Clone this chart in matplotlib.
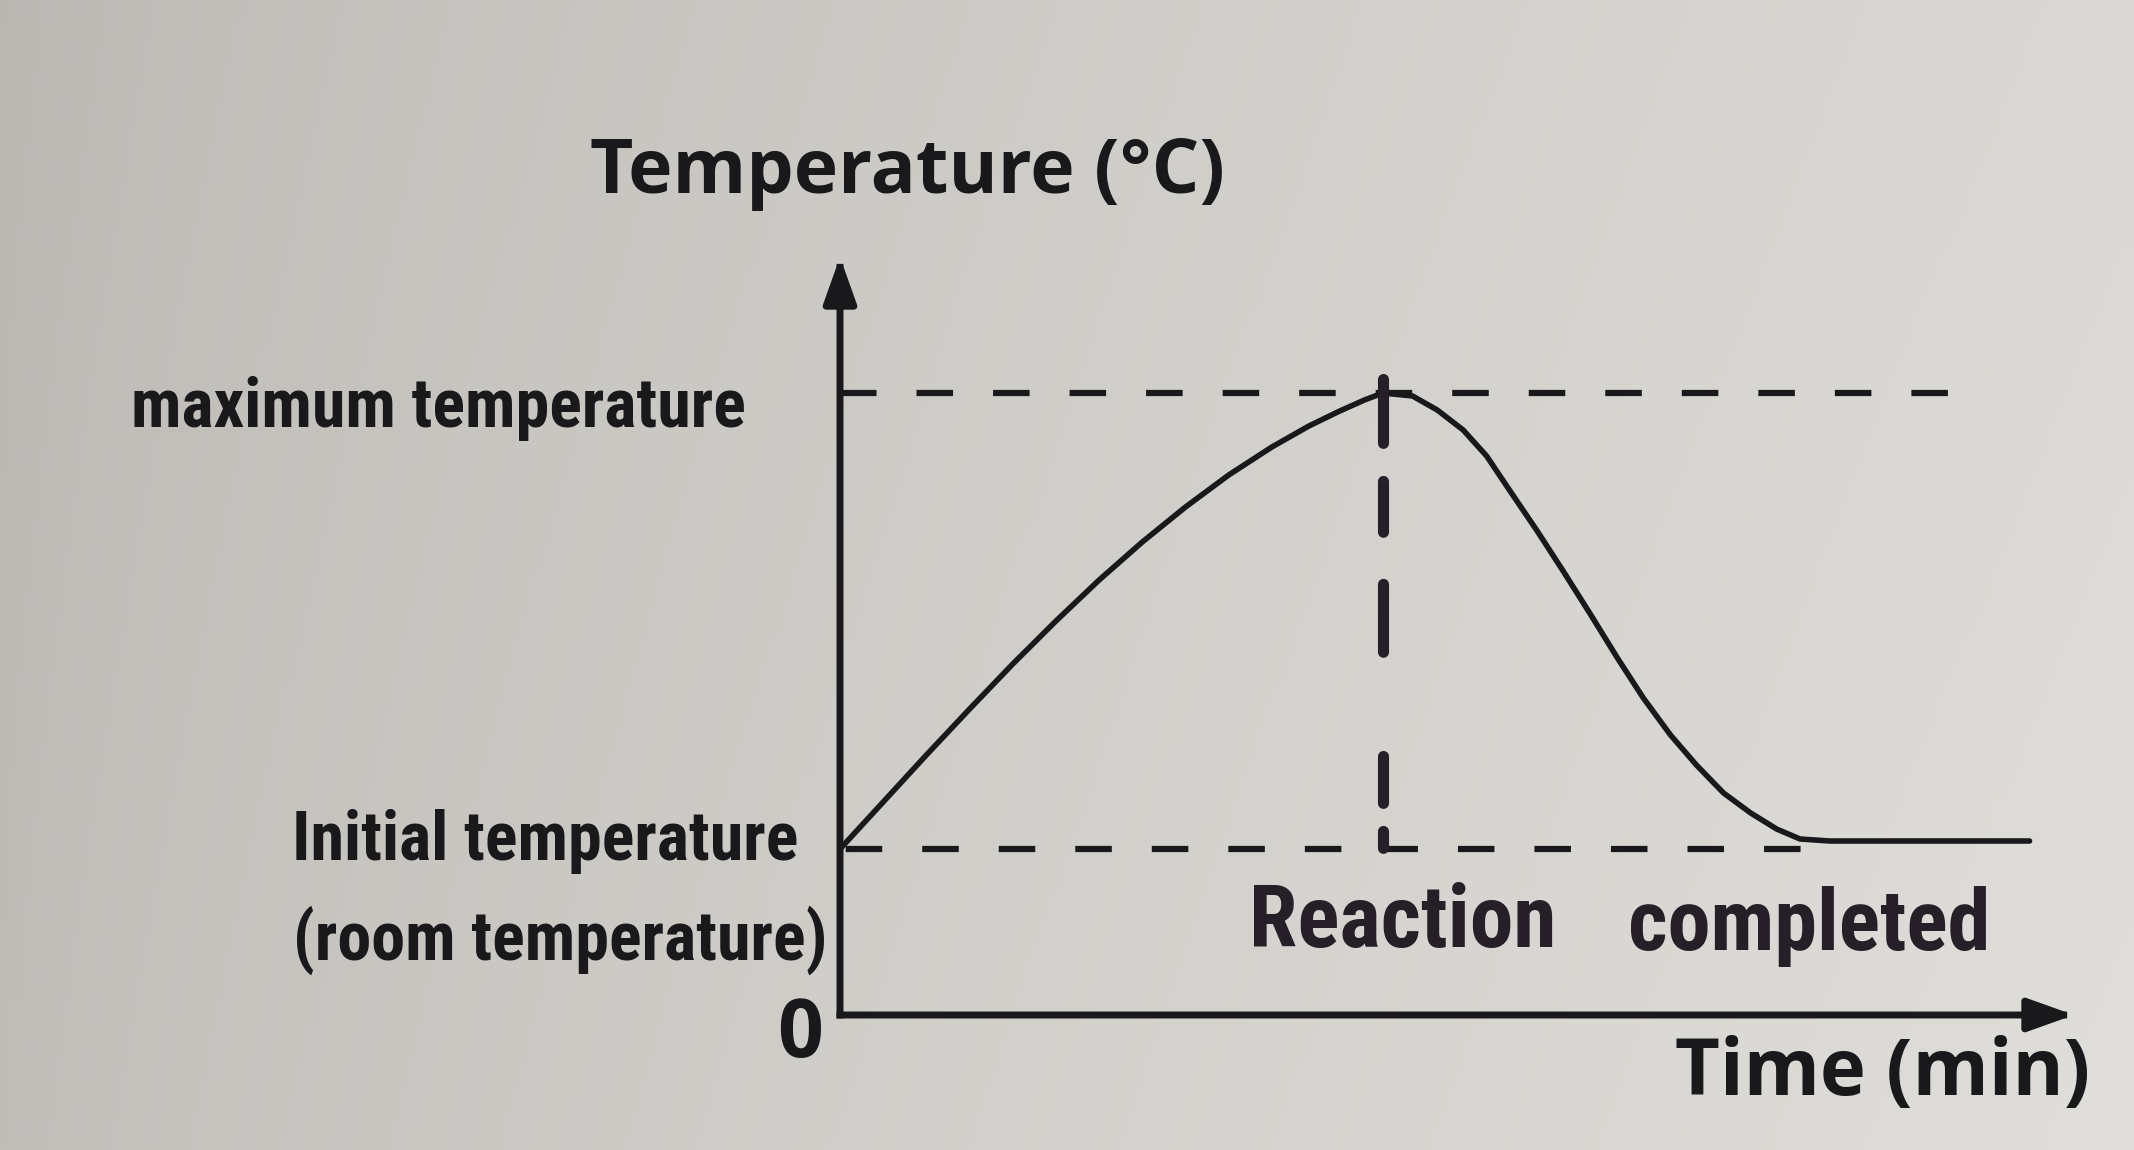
import numpy as np
import matplotlib.pyplot as plt
from matplotlib import font_manager

plt.rcParams['lines.scale_dashes'] = False

# Curve (time and temperature have no numbers on the chart,
# so they are in arbitrary units: 100 = end of the time axis)
time = [0, 3.5, 7, 10.5, 14, 17.5, 21, 24.5, 28, 31.5, 35, 38, 40.5, 42.5, 44.0,
        46.4, 48.4, 50.5, 52.4, 54.3, 56.5, 58.6, 60.8, 63.0, 65.1, 67.3, 69.4,
        71.6, 73.8, 75.9, 77.8, 80.2, 96.4]
temperature = [16.6, 21.3, 26.0, 30.6, 35.1, 39.4, 43.5, 47.3, 50.8, 54.0, 56.8, 58.9, 60.4, 61.5, 62.2,
               61.9, 60.5, 58.5, 55.9, 52.4, 48.4, 44.4, 40.1, 35.7, 31.7, 28.0, 25.0,
               22.2, 20.2, 18.6, 17.6, 17.4, 17.4]

title = 'Temperature (°C)'
x_label = 'Time (min)'
max_label = 'maximum temperature'
initial_label = ['Initial temperature', '(room temperature)']
zero_label = '0'
note = ['Reaction', 'completed']

# extents of the guide lines (same units as above)
max_line_end = 90.5
initial_line_end = 78.0
pen_line_over = 1.4

black = '#19181a'
ink = '#261f27'

available = {f.name for f in font_manager.fontManager.ttflist}
narrow = next((f for f in ['Liberation Sans Narrow', 'Roboto Condensed', 'Open Sans Condensed',
                           'Noto Sans'] if f in available), 'DejaVu Sans')
wide = 'Open Sans' if 'Open Sans' in available else 'DejaVu Sans'

W, H = 2134, 1150
fig = plt.figure(figsize=(W / 100, H / 100), dpi=100)


def fx(px):
    return px / W


def fy(py):
    return 1 - py / H


# paper background (photo is darker on the left)
bg = fig.add_axes([0, 0, 1, 1])
bg.axis('off')
gx = np.linspace(0, 1, 256)[None, :, None]
gy = np.linspace(0, 1, 128)[:, None, None]
left = np.array([192, 189, 185]) / 255
right = np.array([224, 222, 218]) / 255
img = left + (right - left) * gx ** 0.7 - 0.02 * (1 - gy)
bg.imshow(np.clip(img, 0, 1), aspect='auto', extent=[0, 1, 0, 1])

ox, oy = 840, 1015
ax = fig.add_axes([fx(ox), fy(oy), (2074 - ox) / W, (oy - 257) / H])
ax.set_xlim(0, 100)
ax.set_ylim(0, 75.8)
ax.axis('off')

t0 = temperature[0]
t_max = max(temperature)
t_peak = time[temperature.index(t_max)]

# dashed guides
ax.plot([0, max_line_end], [t_max, t_max], color=black, lw=4.5,
        linestyle=(0, (26.3, 28.8)), dash_capstyle='butt', zorder=2)
ax.plot([0, initial_line_end], [t0, t0], color=black, lw=4.5,
        linestyle=(51, (26.3, 28.8)), dash_capstyle='butt', zorder=2)

# the curve
ax.plot(time, temperature, color=black, lw=4, solid_joinstyle='round',
        solid_capstyle='round', zorder=3)

# hand drawn line at the peak
ax.plot([t_peak, t_peak], [t_max + pen_line_over, t0], color=ink, lw=8,
        linestyle=(0, (46.0, 27.4, 36.6, 37.5, 48.9, 75.0, 33.8, 20.2, 12.2, 100)),
        dash_capstyle='round', zorder=4)

# axes with arrow heads
arrow_kw = dict(arrowstyle='-|>,head_length=2.8,head_width=1.0', mutation_scale=10,
                lw=5, color=black, shrinkA=0, shrinkB=0, capstyle='projecting')
ax.annotate('', xy=(1, 0), xytext=(0, 0), xycoords='axes fraction', arrowprops=arrow_kw)
ax.annotate('', xy=(0, 1), xytext=(0, 0), xycoords='axes fraction', arrowprops=arrow_kw)

# printed text
fig.text(fx(907), fy(193), title, ha='center', va='baseline', fontsize=54,
         family=wide, weight='bold', color=black)
fig.text(fx(746), fy(427), max_label, ha='right', va='baseline', fontsize=49,
         family=narrow, weight='bold', color=black)
fig.text(fx(292), fy(860), initial_label[0], ha='left', va='baseline', fontsize=49,
         family=narrow, weight='bold', color=black)
fig.text(fx(293), fy(960), initial_label[1], ha='left', va='baseline', fontsize=49,
         family=narrow, weight='bold', color=black)
fig.text(fx(800), fy(1057), zero_label, ha='center', va='baseline', fontsize=58,
         family=wide, weight='bold', color=black)
fig.text(fx(2090), fy(1095), x_label, ha='right', va='baseline', fontsize=56,
         family=wide, weight='bold', color=black)

# handwritten note
fig.text(fx(1249), fy(947), note[0], ha='left', va='baseline', fontsize=63,
         family=narrow, weight='bold', color=ink)
fig.text(fx(1628), fy(950), note[1], ha='left', va='baseline', fontsize=62,
         family=narrow, weight='bold', color=ink)

fig.savefig('out.png', dpi=100)
